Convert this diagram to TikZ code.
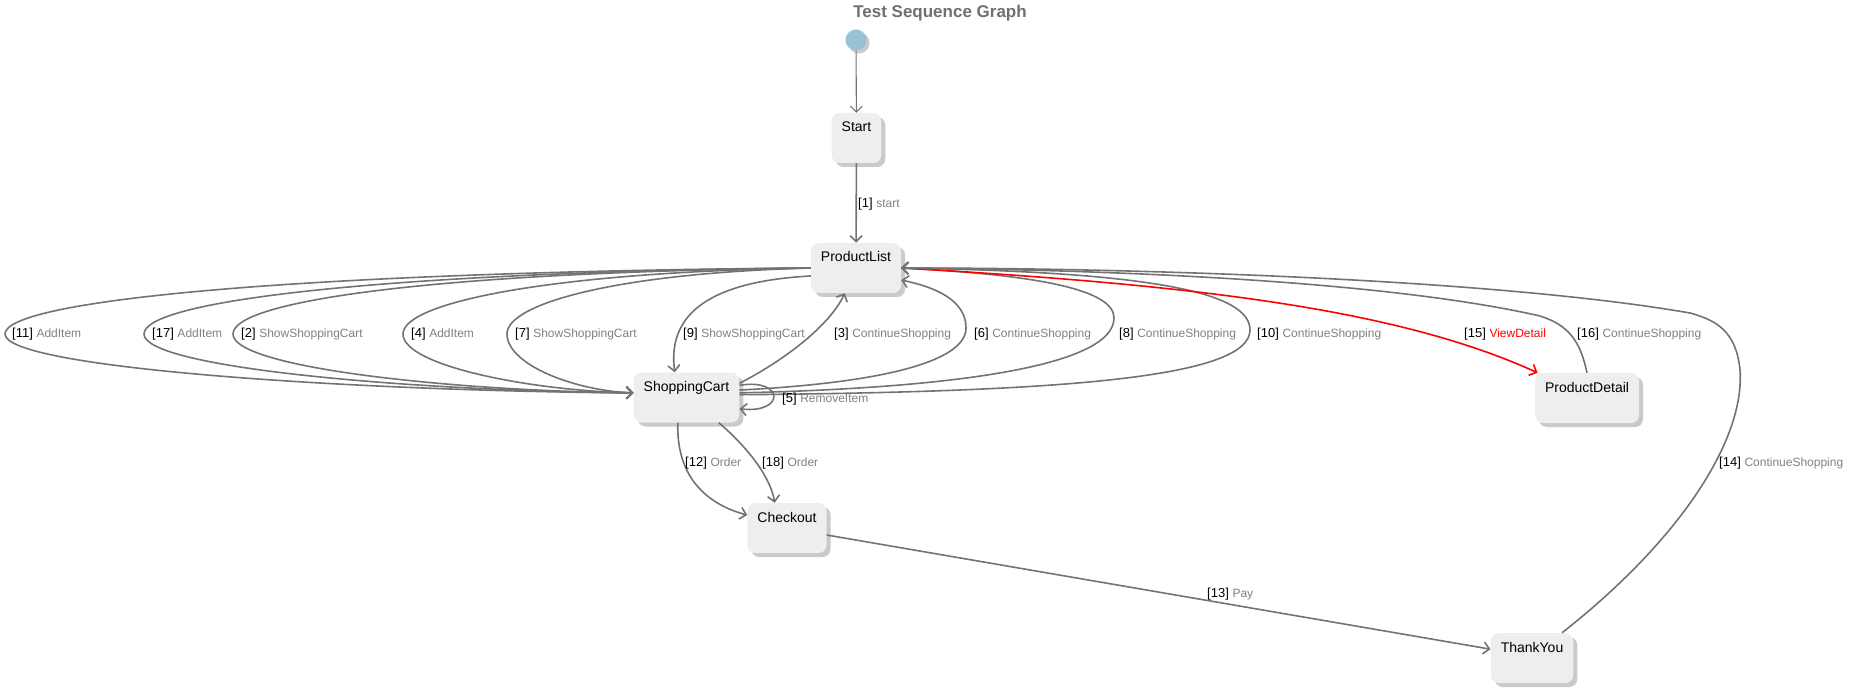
\documentclass[tikz,border=0pt]{standalone}
\usepackage{fontspec}
\setmainfont{Liberation Sans}
\usetikzlibrary{arrows.meta,shadows}
\definecolor{stateback}{RGB}{238,238,238}
\definecolor{edgegray}{RGB}{115,115,115}
\definecolor{lblgray}{RGB}{128,128,128}
\definecolor{titlegray}{RGB}{112,112,112}
\definecolor{initblue}{RGB}{153,194,214}
\newcommand{\translbl}[3][lblgray]{[#2] {\fontsize{12}{14}\selectfont\color{#1}#3}}

\begin{document}
\begin{tikzpicture}[x=1pt, y=-1pt, font=\fontsize{14}{16}\selectfont,
    state/.style={fill=stateback, rounded corners=8pt, inner xsep=10pt, inner ysep=0pt,
        text height=19pt, text depth=31pt,
        drop shadow={shadow xshift=4pt, shadow yshift=-4pt, opacity=0.35, fill=black!60}},
    trans/.style={draw=edgegray, line width=1.6pt, -{Straight Barb[length=6pt,width=12pt]}},
    lbl/.style={anchor=west, inner sep=0pt, font=\fontsize{13}{15}\selectfont}]
    \useasboundingbox (0,0) rectangle (1859,692);

    \node[font=\bfseries\fontsize{17}{19}\selectfont, text=titlegray] (title) at (940,13) {Test Sequence Graph};

    % states
    \node[circle, fill=initblue, minimum size=21pt, inner sep=0pt,
        drop shadow={shadow xshift=3pt, shadow yshift=-3pt, opacity=0.35, fill=black!60}] (init) at (856,40) {};
    \node[state] (start) at (856.5,138) {Start};
    \node[state] (plist) at (856,268) {ProductList};
    \node[state] (cart) at (686.5,397.5) {ShoppingCart};
    \node[state] (detail) at (1587,398) {ProductDetail};
    \node[state] (checkout) at (787,528) {Checkout};
    \node[state] (thanks) at (1532,658) {ThankYou};

    % transitions
    \draw[trans, line width=1.1pt] (init) -- (start);
    \draw[trans] (start) -- (plist);

    \draw[trans] (plist.west) .. controls (300,272) and (5,300) .. (5,334) .. controls (5,368) and (350,391) .. (cart.175);
    \draw[trans] (plist.west) .. controls (391,272) and (144,300) .. (144,334) .. controls (144,368) and (413,391) .. (cart.175);
    \draw[trans] (plist.west) .. controls (443,272) and (233,300) .. (233,334) .. controls (233,368) and (455,391) .. (cart.175);
    \draw[trans] (plist.west) .. controls (554,272) and (403,302) .. (403,334) .. controls (403,366) and (533,391) .. (cart.175);
    \draw[trans] (plist.west) .. controls (620,273) and (507,303) .. (507,334) .. controls (507,365) and (576,391) .. (cart.175);
    \draw[trans] (plist.190) .. controls (700,282) and (668,320) .. (cart.115);

    \draw[trans] (cart.15) .. controls (785,360) and (830,325) .. (plist.246);
    \draw[trans] (cart.8) .. controls (880,383) and (966,362) .. (966,328) .. controls (966,300) and (935,287) .. (plist.-15);
    \draw[trans] (cart.5) .. controls (960,388) and (1114,365) .. (1114,318) .. controls (1114,290) and (1040,275) .. (plist.east);
    \draw[trans] (cart.3) .. controls (1060,392) and (1250,378) .. (1250,330) .. controls (1250,292) and (1150,272) .. (plist.east);
    \draw[trans] (cart.13) .. controls (785,378) and (785,414) .. (cart.348);

    \draw[trans, draw=red] (plist.east) .. controls (1200,285) and (1400,310) .. (detail.153);
    \draw[trans] (detail.north) .. controls (1580,340) and (1568,325) .. (1540,316) .. controls (1400,284) and (1150,270) .. (plist.east);
    \draw[trans] (thanks.40) .. controls (1680,540) and (1745,440) .. (1740,370) .. controls (1736,330) and (1715,320) .. (1690,313) .. controls (1500,280) and (1150,268) .. (plist.east);

    \draw[trans] (cart.251) .. controls (676,480) and (710,505) .. (checkout.162);
    \draw[trans] (cart.322) .. controls (745,445) and (770,475) .. (checkout.116);
    \draw[trans] (checkout.-10) -- (thanks.168);

    % labels
    \node[lbl] (l1) at (858,204) {\translbl{1}{start}};
    \node[lbl] (l11) at (12,334) {\translbl{11}{AddItem}};
    \node[lbl] (l17) at (152,334) {\translbl{17}{AddItem}};
    \node[lbl] (l2) at (241,334) {\translbl{2}{ShowShoppingCart}};
    \node[lbl] (l4) at (411,334) {\translbl{4}{AddItem}};
    \node[lbl] (l7) at (515,334) {\translbl{7}{ShowShoppingCart}};
    \node[lbl] (l9) at (683,334) {\translbl{9}{ShowShoppingCart}};
    \node[lbl] (l3) at (834,334) {\translbl{3}{ContinueShopping}};
    \node[lbl] (l6) at (974,334) {\translbl{6}{ContinueShopping}};
    \node[lbl] (l8) at (1119,334) {\translbl{8}{ContinueShopping}};
    \node[lbl] (l10) at (1257,334) {\translbl{10}{ContinueShopping}};
    \node[lbl] (l15) at (1464,334) {\translbl[red]{15}{ViewDetail}};
    \node[lbl] (l16) at (1577,334) {\translbl{16}{ContinueShopping}};
    \node[lbl] (l5) at (782,399) {\translbl{5}{RemoveItem}};
    \node[lbl] (l12) at (685,463) {\translbl{12}{Order}};
    \node[lbl] (l18) at (762,463) {\translbl{18}{Order}};
    \node[lbl] (l14) at (1719,463) {\translbl{14}{ContinueShopping}};
    \node[lbl] (l13) at (1207,594) {\translbl{13}{Pay}};
\end{tikzpicture}
\end{document}
